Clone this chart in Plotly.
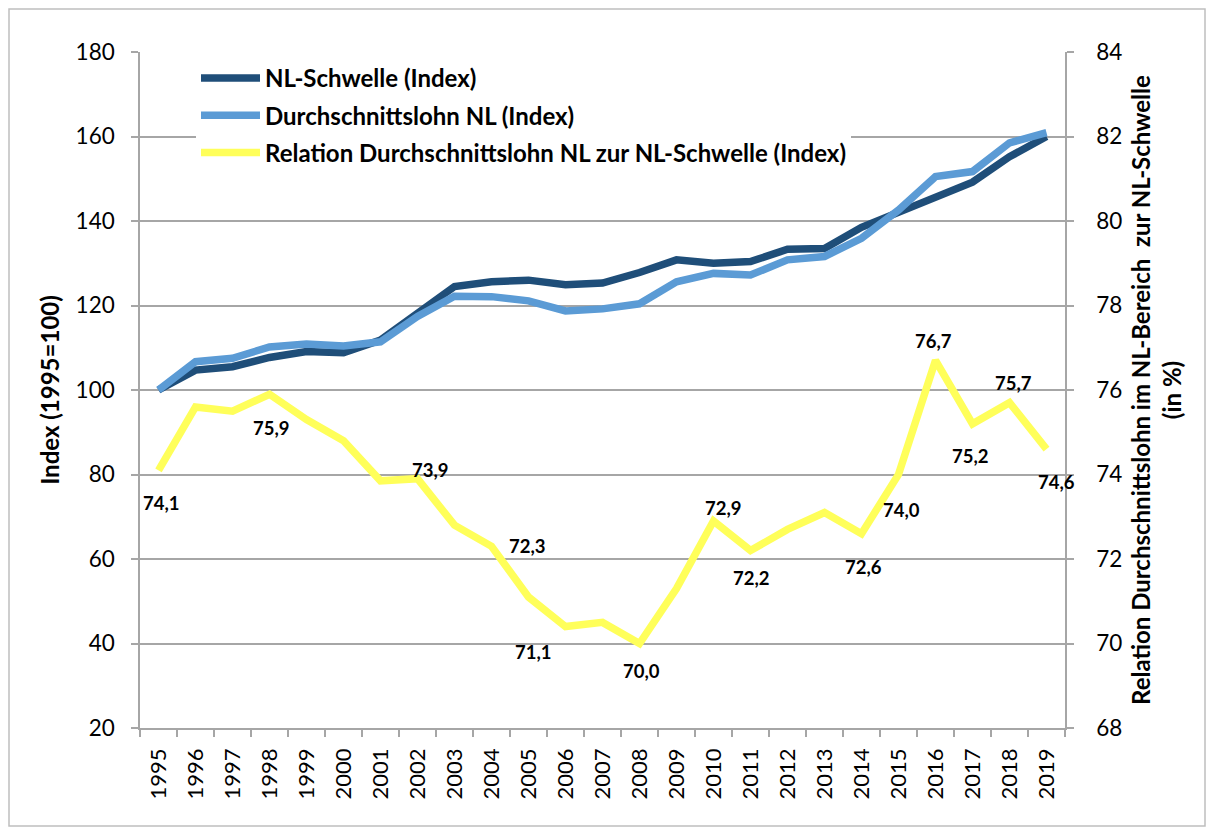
import plotly.graph_objects as go

years = [str(y) for y in range(1995, 2020)]

nl_schwelle = [100, 104.7, 105.5, 107.7, 109.1, 108.8, 111.8, 118.3, 124.5, 125.6,
               126.0, 124.9, 125.3, 127.8, 130.8, 130.0, 130.4, 133.3, 133.5, 138.5,
               142.2, 145.6, 149.2, 155.2, 160.0]
durchschnittslohn = [100, 106.7, 107.5, 110.2, 110.9, 110.4, 111.4, 117.4, 122.2, 122.1,
                     121.1, 118.7, 119.2, 120.4, 125.6, 127.6, 127.2, 130.8, 131.6, 135.9,
                     142.6, 150.5, 151.7, 158.5, 160.9]
relation = [74.1, 75.6, 75.5, 75.9, 75.3, 74.8, 73.85, 73.9, 72.8, 72.3,
            71.1, 70.4, 70.5, 70.0, 71.3, 72.9, 72.2, 72.7, 73.1, 72.6,
            74.0, 76.7, 75.2, 75.7, 74.6]

left_ticks = [20, 40, 60, 80, 100, 120, 140, 160, 180]
right_ticks = [68, 70, 72, 74, 76, 78, 80, 82, 84]

series_names = ["NL-Schwelle (Index)", "Durchschnittslohn NL (Index)",
                "Relation Durchschnittslohn NL zur NL-Schwelle (Index)"]

left_title = "Index (1995=100)"
right_title = "Relation Durchschnittslohn im NL-Bereich\u00a0 zur NL-Schwelle<br>(in %)"

# which points of the relation series carry a value label
labeled_years = ["1995", "1998", "2002", "2004", "2005", "2008", "2010", "2011",
                 "2014", "2015", "2016", "2017", "2018", "2019"]
# pixel offsets (style) for each label: (right, down)
label_offsets = [(3, 33), (2, 34), (13, -9), (36, 0), (5, 55), (2, 27), (10, -13),
                 (1, 27), (2, 33), (3, 35), (-2, -19), (-2, 32), (4, -20), (10, 33)]

DARK = "#1F4E79"
LIGHT = "#5B9BD5"
YELLOW = "#FFFF5A"
GRID = "#A6A6A6"
FONT = "Lato"
LW = 7.5

fig = go.Figure()
fig.add_trace(go.Scatter(x=years, y=nl_schwelle, name=series_names[0], mode="lines",
                         line=dict(color=DARK, width=LW), legendgroup="a"))
fig.add_trace(go.Scatter(x=years, y=durchschnittslohn, name=series_names[1], mode="lines",
                         line=dict(color=LIGHT, width=LW), legendgroup="b"))
fig.add_trace(go.Scatter(x=years, y=relation, name=series_names[2], mode="lines",
                         line=dict(color=YELLOW, width=LW), yaxis="y2", legendgroup="c"))

annotations = []
for yr, (dx, dy) in zip(labeled_years, label_offsets):
    i = years.index(yr)
    v = relation[i]
    annotations.append(dict(
        x=i, y=v, xref="x", yref="y2", showarrow=False,
        text=f"{v:.1f}".replace(".", ","),
        xshift=dx, yshift=-dy,
        font=dict(family=FONT, size=18.5, color="black", weight="bold"),
    ))

# page geometry (the page body adds an 8px offset)
OFF = 8
W, H = 1214 - OFF, 835 - OFF
PL, PR, PT, PB = 140, 1065, 52, 728  # plot area in page pixels
L, T = PL - OFF, PT - OFF
R, B = (W + OFF) - PR, (H + OFF) - PB


def px_x(p):
    return (p - PL) / (PR - PL)


def px_y(p):
    return (PB - p) / (PB - PT)


fig.update_layout(
    width=W, height=H,
    margin=dict(l=L, r=R, t=T, b=B, pad=0),
    paper_bgcolor="white", plot_bgcolor="white",
    showlegend=True,
    legend=dict(
        x=px_x(196), y=px_y(56), xanchor="left", yanchor="top",
        bgcolor="white", borderwidth=0,
        font=dict(family=FONT, size=24, color="black", weight="bold"),
        itemwidth=59, tracegroupgap=3, traceorder="grouped",
    ),
    xaxis=dict(
        type="category", range=[-0.5, 24.5],
        showline=True, linecolor=GRID, linewidth=1.5,
        ticks="outside", tickson="boundaries", ticklen=7, tickcolor=GRID, tickwidth=1.5,
        tickangle=-90, showgrid=False,
        tickfont=dict(family=FONT, size=22, color="black"),
        ticklabelstandoff=10,
    ),
    yaxis=dict(
        range=[20, 180], tickvals=left_ticks,
        showline=True, linecolor=GRID, linewidth=1.5,
        ticks="outside", ticklen=7, tickcolor=GRID, tickwidth=1.5,
        showgrid=True, gridcolor=GRID, gridwidth=1.5, zeroline=False,
        tickfont=dict(family=FONT, size=22.5, color="black"),
        ticklabelstandoff=12,
        title=dict(text=left_title, standoff=9,
                   font=dict(family=FONT, size=24, color="black", weight="bold")),
    ),
    yaxis2=dict(
        range=[68, 84], tickvals=right_ticks, overlaying="y", side="right",
        showline=True, linecolor=GRID, linewidth=1.5,
        ticks="outside", ticklen=7, tickcolor=GRID, tickwidth=1.5,
        showgrid=False, zeroline=False,
        tickfont=dict(family=FONT, size=22.5, color="black"),
        ticklabelstandoff=18,
        title=dict(text=right_title, standoff=12,
                   font=dict(family=FONT, size=24, color="black", weight="bold")),
    ),
    annotations=annotations,
    shapes=[dict(type="rect", xref="paper", yref="paper",
                 x0=px_x(9), x1=px_x(1205), y0=px_y(9), y1=px_y(826),
                 line=dict(color="#BFBFBF", width=1.5), fillcolor="rgba(0,0,0,0)",
                 layer="below")],
)

fig.write_html("out.html")
